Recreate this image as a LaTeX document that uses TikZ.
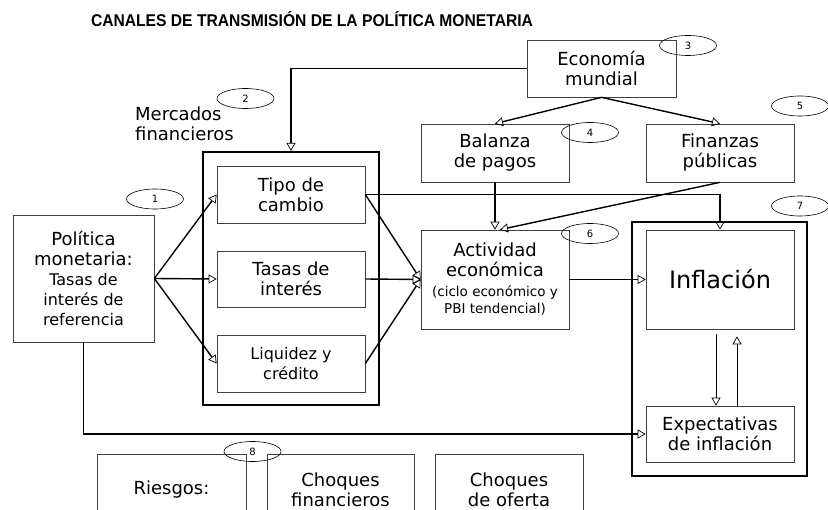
\documentclass[tikz,border=0pt]{standalone}
\usepackage{fontspec}
\setmainfont{DejaVu Sans}
\newfontfamily\titlefont{Liberation Sans}
\usetikzlibrary{arrows.meta,shapes.geometric}
\newcommand{\chico}{\fontsize{16}{19}\selectfont}
\newcommand{\nota}{\fontsize{13.5}{16}\selectfont}

\begin{document}
\begin{tikzpicture}[x=1pt,y=-1pt,
    caja/.style={draw=black!75, line width=0.7pt, minimum width=148pt, inner sep=0pt,
      align=center, font=\fontsize{18}{20}\selectfont},
    marco/.style={draw, line width=2.2pt, inner sep=0pt},
    num/.style={draw, ellipse, line width=0.6pt, minimum width=57pt, minimum height=20pt,
      inner sep=0pt, font=\fontsize{10}{12}\selectfont},
    linea/.style={line width=1.4pt},
    flecha/.style={line width=1.4pt, -{Triangle[open,length=8pt,width=9pt,line width=0.7pt]}}]
  \clip (0,0) rectangle (828,510);
  \node[font=\fontsize{17}{20}\titlefont\bfseries] (titulo) at (312,19)
    {\scalebox{0.92}[1]{CANALES DE TRANSMISIÓN DE LA POLÍTICA MONETARIA}};
  % marcos
  \node[marco, minimum width=176pt, minimum height=253pt] (mercfr) at (291,278.5) {};
  \node[marco, minimum width=175pt, minimum height=254pt] (inflfr) at (719.5,349) {};
  % cajas
  \node[caja, minimum width=149pt, minimum height=57pt] (econ) at (601.5,68.5) {Economía\\mundial};
  \node[caja, minimum height=58pt] (balanza) at (495,153) {Balanza\\de pagos};
  \node[caja, minimum height=58pt] (finanzas) at (720,153) {Finanzas\\públicas};
  \node[caja, minimum width=141pt, minimum height=127pt] (politica) at (83.5,278.5)
    {Política\\monetaria:\\{\chico Tasas de}\\{\chico interés de}\\{\chico referencia}};
  \node[anchor=north west, inner sep=0pt, align=left, font=\fontsize{18}{20}\selectfont]
    (mercados) at (135,107) {Mercados\\financieros};
  \node[caja, minimum height=57pt] (tipo) at (291,194.5) {Tipo de\\cambio};
  \node[caja, minimum height=56pt] (tasas) at (291,279) {Tasas de\\interés};
  \node[caja, minimum height=57pt] (liquidez) at (291,363.5) {{\chico Liquidez y}\\{\chico crédito}};
  \node[caja, minimum height=99pt] (actividad) at (495,279.5)
    {Actividad\\económica\\{\nota(ciclo económico y}\\[-3pt]{\nota PBI tendencial)}};
  \node[caja, minimum height=99pt, font=\fontsize{24}{28}\selectfont] (inflacion) at (720,279.5) {Inflación};
  \node[caja, minimum height=56pt] (expect) at (720,434) {Expectativas\\de inflación};
  % riesgos
  \node[caja, minimum width=149pt, minimum height=70pt, anchor=north] (riesgos) at (171.5,454) {Riesgos:};
  \node[caja, minimum width=147pt, minimum height=70pt, anchor=north] (chfin) at (340.5,454) {Choques\\financieros};
  \node[caja, minimum height=70pt, anchor=north] (choferta) at (509,454) {Choques\\de oferta};
  % numeros
  \node[num] (n1) at (155,199) {1};
  \node[num] (n2) at (245.5,98.5) {2};
  \node[num] (n3) at (688,45.5) {3};
  \node[num] (n4) at (590,132.5) {4};
  \node[num] (n5) at (800,106) {5};
  \node[num] (n6) at (590,233.5) {6};
  \node[num] (n7) at (800,206) {7};
  \node[num] (n8) at (252.5,451.5) {8};
  % conexiones
  \draw[flecha] (econ.west) -| (mercfr.north);
  \draw[flecha] (econ.south) -- (balanza.north);
  \draw[flecha] (econ.south) -- (finanzas.north);
  \draw[flecha] (politica.east) -- (tipo.west);
  \draw[flecha] (politica.east) -- (tasas.west);
  \draw[flecha] (politica.east) -- (liquidez.west);
  \draw[flecha] (tipo.east) -- (actividad.west);
  \draw[flecha] (tasas.east) -- (actividad.west);
  \draw[flecha] (liquidez.east) -- (actividad.west);
  \draw[flecha] (tipo.east) -| (inflacion.north);
  \draw[flecha] (balanza.south) -- (actividad.north);
  \draw[flecha] (finanzas.south) -- ([xshift=5pt]actividad.north);
  \draw[flecha] (actividad.east) -- (inflacion.west);
  \draw[flecha, line width=1pt] ([xshift=-4pt,yshift=-5pt]inflacion.south) -- ([xshift=-4pt]expect.north);
  \draw[flecha, line width=1pt] ([xshift=17pt]expect.north) -- ([xshift=17pt,yshift=-7pt]inflacion.south);
  \draw[flecha] (politica.south) |- (expect.west);
\end{tikzpicture}
\end{document}
